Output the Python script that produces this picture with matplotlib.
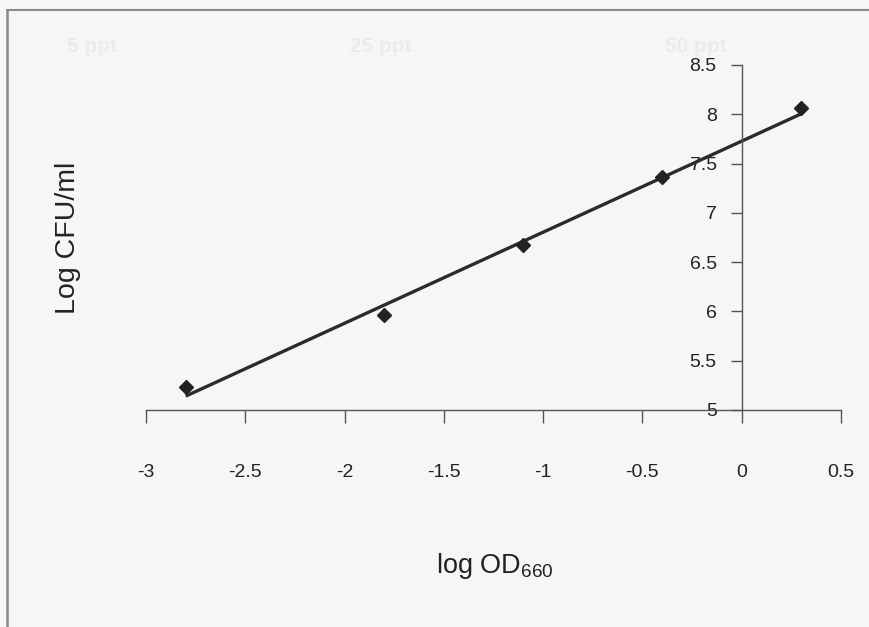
import numpy as np
import matplotlib
matplotlib.use("Agg")
import matplotlib.pyplot as plt
from matplotlib.lines import Line2D

plt.rcParams['font.family'] = ['Liberation Sans', 'DejaVu Sans']
plt.rcParams['mathtext.fontset'] = 'custom'
plt.rcParams['mathtext.rm'] = 'Liberation Sans'

# data
log_od = [-2.8, -1.8, -1.1, -0.4, 0.3]
log_cfu = [5.23, 5.96, 6.67, 7.36, 8.06]
x_ticks = [-3, -2.5, -2, -1.5, -1, -0.5, 0, 0.5]
y_ticks = [5, 5.5, 6, 6.5, 7, 7.5, 8, 8.5]
ghost_labels = ["5 ppt", "25 ppt", "50 ppt"]

fig = plt.figure(figsize=(8.7, 6.27), dpi=100)
fig.patch.set_facecolor('#f6f6f6')

# faint show-through from the other side of the page
for x, lab in zip([67/870, 350/870, 665/870], ghost_labels):
    fig.text(x, 1 - 47/627, lab, fontsize=15, color='#ebebeb',
             fontweight='bold', va='center', zorder=0)

# frame lines of the scanned figure box
fig.add_artist(Line2D([7/870, 7/870], [0, 1 - 10/627], color='#8a8a8a', lw=1.8))
fig.add_artist(Line2D([7/870, 1], [1 - 10/627, 1 - 10/627], color='#8a8a8a', lw=1.5))

ax = fig.add_axes([146/870, 1 - 410/627, 695/870, 345/627])
ax.set_facecolor('none')

# linear trend line
slope, intercept = np.polyfit(log_od, log_cfu, 1)
xs = np.array([min(log_od), max(log_od)])
ax.plot(xs, slope * xs + intercept, color='#2b2b2b', lw=2.4, solid_capstyle='butt', zorder=2)
ax.plot(log_od, log_cfu, linestyle='none', marker='D', markersize=7.5,
        color='#222222', zorder=3)

ax.set_xlim(-3, 0.5)
ax.set_ylim(5, 8.5)
ax.set_xticks(x_ticks)
ax.set_xticklabels([f"{t:g}" for t in x_ticks])
ax.set_yticks(y_ticks)
ax.set_yticklabels([f"{t:g}" for t in y_ticks])

for s in ['top', 'right']:
    ax.spines[s].set_visible(False)
ax.spines['left'].set_position(('data', 0))
for s in ['left', 'bottom']:
    ax.spines[s].set_color('#555555')
    ax.spines[s].set_linewidth(1.0)

ax.tick_params(axis='x', direction='out', length=9, width=1.0, color='#555555',
               pad=30, labelsize=14, labelcolor='#222222')
ax.tick_params(axis='y', direction='out', length=8, width=1.0, color='#555555',
               pad=10, labelsize=14, labelcolor='#222222')

fig.text(495/870, 1 - 566/627, r'log OD$_{\mathregular{660}}$', fontsize=19.5,
         ha='center', va='center', color='#222222')
fig.text(68/870, 1 - 238/627, 'Log CFU/ml', fontsize=20.5, rotation=90,
         ha='center', va='center', color='#222222')

fig.savefig('out.png', dpi=100, facecolor=fig.get_facecolor())
